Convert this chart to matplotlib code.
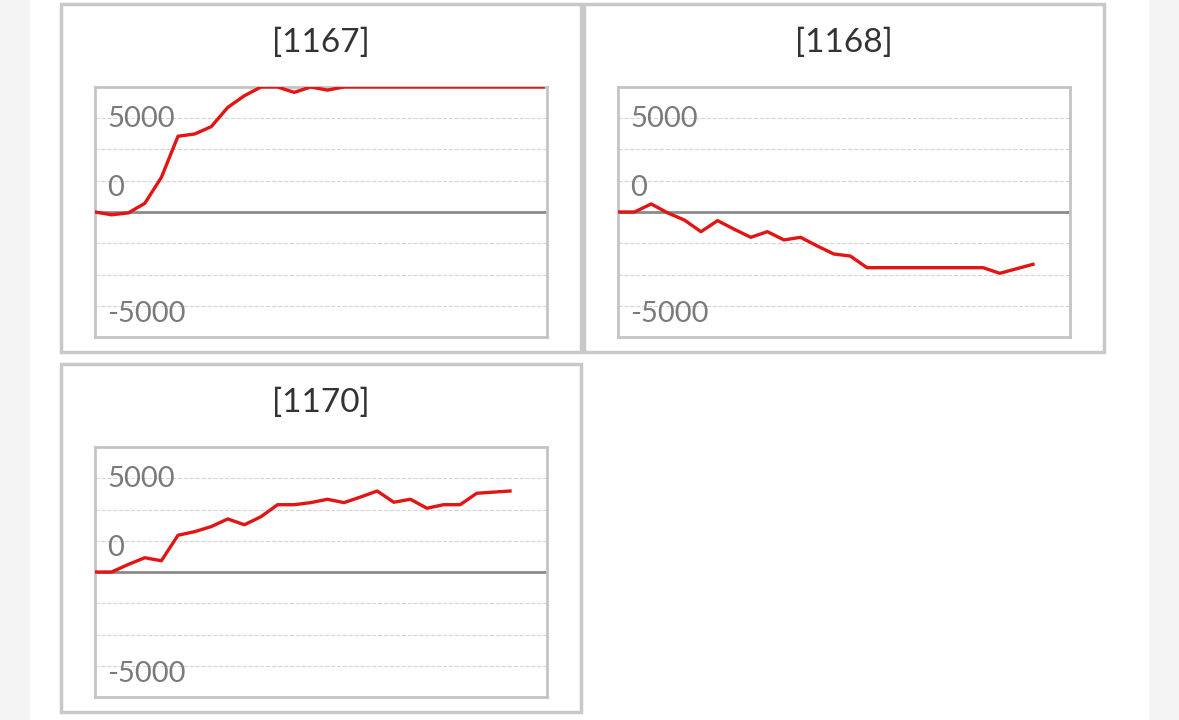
import numpy as np
import matplotlib
matplotlib.use("Agg")
import matplotlib.pyplot as plt
from matplotlib.patches import Rectangle

plt.rcParams['font.family'] = ['Lato', 'DejaVu Sans']

W, H = 1179, 720

# panel titles
titles = ['[1167]', '[1168]', '[1170]']

# cumulative values (one point per step)
y_1167 = [0, -150, -50, 460, 1850, 4040, 4160, 4550, 5580, 6200, 6667, 6667,
          6380, 6667, 6500, 6667, 6667, 6667, 6667, 6667, 6667, 6667, 6667,
          6667, 6667, 6667, 6667, 6667]
y_1168 = [0, 0, 430, -50, -430, -1050, -460, -920, -1350, -1050, -1490, -1350,
          -1810, -2240, -2350, -2970, -2970, -2970, -2970, -2970, -2970, -2970,
          -2970, -3270, -3030, -2790]
y_1170 = [0, 0, 400, 760, 600, 1960, 2150, 2420, 2830, 2520, 2950, 3590, 3590,
          3700, 3880, 3700, 4000, 4320, 3720, 3880, 3400, 3590, 3590, 4200,
          4260, 4320]
series = [y_1167, y_1168, y_1170]

# y labels as shown inside the plot
y_labels = ['5000', '0', '-5000']
label_pos = [0.872, 0.596, 0.094]

# pixel boxes of the panels: left, top, right, bottom
panels = [(61, 4, 581, 352), (584, 4, 1104, 352), (61, 364, 581, 712)]

fig = plt.figure(figsize=(W / 100, H / 100), dpi=100, facecolor='#f4f4f4')
fig.add_artist(Rectangle((30 / W, 0), 1119 / W, 1, transform=fig.transFigure,
                         facecolor='white', edgecolor='none', zorder=0))

ymax = 6666.7
step = ymax / 4

for (l, t, r, b), title, ys in zip(panels, titles, series):
    fig.add_artist(Rectangle((l / W, 1 - b / H), (r - l) / W, (b - t) / H,
                             transform=fig.transFigure, fill=False,
                             edgecolor='#c8c8c8', lw=2.5, zorder=1))
    fig.text((l + r) / 2 / W, 1 - (t + 39) / H, title, ha='center', va='center',
             fontsize=24, color='#333333')

    ax = fig.add_axes([(l + 34) / W, 1 - (t + 333) / H, 452 / W, 250 / H])
    ax.set_xlim(0, 27.23)
    ax.set_ylim(-ymax, ymax)
    ax.set_yticks(np.arange(-ymax, ymax + 1, step))
    ax.set_xticks([])
    ax.tick_params(left=False, labelleft=False)
    ax.grid(axis='y', color='#d4d4d4', ls='--', lw=0.8)
    ax.axhline(0, color='#8a8a8a', lw=2, zorder=2)
    ax.plot(range(len(ys)), ys, color='#e31414', lw=2.4, zorder=3)
    for s in ax.spines.values():
        s.set_color('#c4c4c4')
        s.set_linewidth(2)
    for txt, yp in zip(y_labels, label_pos):
        ax.text(0.027, yp, txt, transform=ax.transAxes, ha='left', va='center',
                fontsize=21, color='#7a7a7a', zorder=4)

fig.savefig('out.png', dpi=100, facecolor=fig.get_facecolor())
